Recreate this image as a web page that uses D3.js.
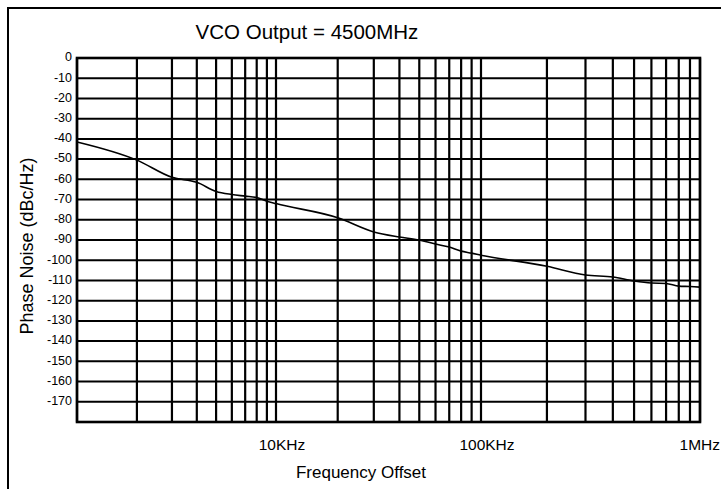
<!DOCTYPE html>
<html>
<head>
<meta charset="utf-8">
<script src="https://cdn.jsdelivr.net/npm/d3@7"></script>
<style>
    body { margin: 0; background: #fff; }
    text { font-family: Arial, "Liberation Sans", sans-serif; fill: #000; }
</style>
</head>
<body>
<svg id="chart" width="721" height="489"></svg>
<script>
// --------------------------------------
// DATA
// --------------------------------------
var offsetHz = [1e3, 2e3, 3e3, 4e3, 5e3, 6e3, 7e3, 8e3, 9e3,
                1e4, 2e4, 3e4, 4e4, 5e4, 6e4, 7e4, 8e4, 9e4,
                1e5, 2e5, 3e5, 4e5, 5e5, 6e5, 7e5, 8e5, 9e5, 1e6];
var noiseDb = [-41.5, -50.5, -59, -61.5, -66, -67.5, -68.3, -69, -70.8,
               -72, -79, -86, -88.5, -90, -92, -93.5, -95.5, -96.5,
               -97.5, -103, -107.3, -108.3, -110.3, -111.3, -111.5, -112.8, -113, -113.3];

var yTickValues = [0, -10, -20, -30, -40, -50, -60, -70, -80, -90,
                   -100, -110, -120, -130, -140, -150, -160, -170];
var xLabelValues = [1e4, 1e5, 1e6];
var xLabelText = ['10KHz', '100KHz', '1MHz'];

var titleText = 'VCO Output = 4500MHz';
var xTitle = 'Frequency Offset';
var yTitle = 'Phase Noise (dBc/Hz)';

// --------------------------------------
// CONFIG
// --------------------------------------
var CONFIG = {
    left: 77,
    right: 700,
    top: 58,
    bottom: 422
};

var svg = d3.select('#chart');

// scales - one piece per decade
var x = d3.scaleLog()
    .domain([1e3, 1e4, 1e5, 1e6])
    .range([CONFIG.left, 276, 481, CONFIG.right]);

var y = d3.scaleLinear()
    .domain([0, -180])
    .range([CONFIG.top, CONFIG.bottom]);

// outer frame (runs off the right / bottom edge)
svg.append('rect')
    .attr('x', 8).attr('y', 8)
    .attr('width', 720).attr('height', 500)
    .attr('fill', 'none')
    .attr('stroke', '#000')
    .attr('stroke-width', 2);

// title
svg.append('text')
    .attr('x', 307).attr('y', 39)
    .attr('text-anchor', 'middle')
    .style('font-size', '20.5px')
    .text(titleText);

// grid
var grid = svg.append('g');

grid.selectAll('line.h')
    .data(yTickValues.filter(function(d){ return d !== 0; }))
    .enter().append('line')
    .attr('class', 'h')
    .attr('x1', CONFIG.left).attr('x2', CONFIG.right)
    .attr('y1', function(d){ return y(d); })
    .attr('y2', function(d){ return y(d); })
    .attr('stroke', '#000')
    .attr('stroke-width', 2);

grid.selectAll('line.v')
    .data(x.ticks())
    .enter().append('line')
    .attr('class', 'v')
    .attr('x1', function(d){ return x(d); })
    .attr('x2', function(d){ return x(d); })
    .attr('y1', CONFIG.top).attr('y2', CONFIG.bottom)
    .attr('stroke', '#000')
    .attr('stroke-width', 2.2);

// curve
var line = d3.line()
    .x(function(d){ return x(d[0]); })
    .y(function(d){ return y(d[1]); })
    .curve(d3.curveMonotoneX);

svg.append('path')
    .datum(d3.zip(offsetHz, noiseDb))
    .attr('d', line)
    .attr('fill', 'none')
    .attr('stroke', '#000')
    .attr('stroke-width', 1.6);

// plot border
svg.append('rect')
    .attr('x', CONFIG.left).attr('y', CONFIG.top)
    .attr('width', CONFIG.right - CONFIG.left)
    .attr('height', CONFIG.bottom - CONFIG.top)
    .attr('fill', 'none')
    .attr('stroke', '#000')
    .attr('stroke-width', 2.6);

// y tick labels
svg.selectAll('text.ytick')
    .data(yTickValues)
    .enter().append('text')
    .attr('class', 'ytick')
    .attr('x', 72)
    .attr('y', function(d){ return y(d) - 1; })
    .attr('dy', '0.35em')
    .attr('text-anchor', 'end')
    .style('font-size', '12.5px')
    .text(function(d){ return d; });

// x tick labels
svg.selectAll('text.xtick')
    .data(xLabelValues)
    .enter().append('text')
    .attr('class', 'xtick')
    .attr('x', function(d, i){
        // last label is pushed against the edge
        return i === xLabelValues.length - 1 ? 720 : x(d) + 6;
    })
    .attr('y', 450)
    .attr('text-anchor', function(d, i){ return i === xLabelValues.length - 1 ? 'end' : 'middle'; })
    .style('font-size', '15.5px')
    .text(function(d, i){ return xLabelText[i]; });

// axis titles
svg.append('text')
    .attr('x', 361).attr('y', 478)
    .attr('text-anchor', 'middle')
    .style('font-size', '17px')
    .text(xTitle);

svg.append('text')
    .attr('transform', 'translate(33,246) rotate(-90)')
    .attr('text-anchor', 'middle')
    .style('font-size', '18px')
    .text(yTitle);
</script>
</body>
</html>
